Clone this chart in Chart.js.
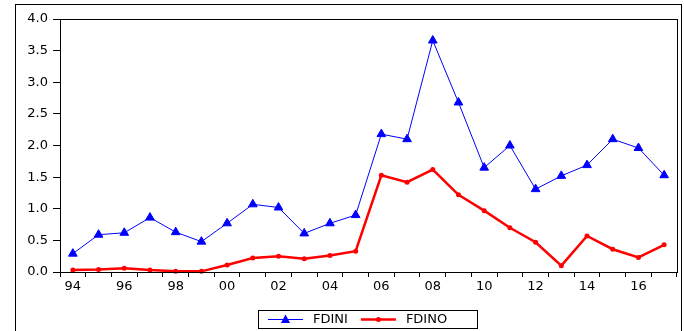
<!DOCTYPE html>
<html>
<head>
<meta charset="utf-8">
<script src="https://cdn.jsdelivr.net/npm/chart.js@4.4.1/dist/chart.umd.min.js"></script>
<style>
  html, body { margin: 0; padding: 0; background: #fff; }
  #wrap { width: 684px; height: 331px; }
</style>
</head>
<body>
<div id="wrap"><canvas id="myChart"></canvas></div>
<script>
var years = ['94','95','96','97','98','99','00','01','02','03','04','05',
             '06','07','08','09','10','11','12','13','14','15','16','17'];
var fdini = [0.29, 0.59, 0.62, 0.86, 0.63, 0.48, 0.77, 1.07, 1.02, 0.61, 0.77, 0.90,
             2.18, 2.10, 3.66, 2.68, 1.65, 2.00, 1.31, 1.52, 1.69, 2.10, 1.96, 1.53];
var fdino = [0.03, 0.04, 0.06, 0.03, 0.01, 0.01, 0.11, 0.22, 0.25, 0.21, 0.26, 0.33,
             1.53, 1.42, 1.62, 1.22, 0.97, 0.70, 0.47, 0.10, 0.57, 0.36, 0.23, 0.43];
var yTicks = [0, 0.5, 1, 1.5, 2, 2.5, 3, 3.5, 4];

var fontFamily = '"DejaVu Sans", sans-serif';

// frame round the whole picture, box round the plot, legend box at the bottom
var framePlugin = {
  id: 'frames',
  afterDraw: function(chart) {
    var ctx = chart.ctx;
    var a = chart.chartArea;
    ctx.save();
    ctx.strokeStyle = '#000';
    ctx.lineWidth = 1;
    ctx.strokeRect(15.5, 4.5, 666, 340);
    ctx.strokeRect(Math.round(a.left) + 0.5, Math.round(a.top) + 0.5,
                   Math.round(a.right - a.left), Math.round(a.bottom - a.top));

    // legend
    var bx = 258, by = 310, bw = 219, bh = 18;
    ctx.strokeRect(bx + 0.5, by + 0.5, bw, bh);
    ctx.font = '13px ' + fontFamily;
    ctx.textBaseline = 'middle';
    ctx.fillStyle = '#000';
    var x = bx + 10, cy = by + 9.5;
    chart.data.datasets.forEach(function(ds) {
      ctx.strokeStyle = ds.borderColor;
      ctx.lineWidth = ds.borderWidth;
      ctx.beginPath();
      ctx.moveTo(x, cy);
      ctx.lineTo(x + 35, cy);
      ctx.stroke();
      ctx.fillStyle = ds.pointBackgroundColor;
      if (ds.pointStyle === 'triangle') {
        ctx.beginPath();
        ctx.moveTo(x + 17.5, cy - 5);
        ctx.lineTo(x + 22, cy + 3.5);
        ctx.lineTo(x + 13, cy + 3.5);
        ctx.closePath();
        ctx.fill();
      } else {
        ctx.beginPath();
        ctx.arc(x + 17.5, cy, 2.5, 0, Math.PI * 2);
        ctx.fill();
      }
      ctx.fillStyle = '#000';
      ctx.fillText(ds.label, x + 45, cy);
      x += 45 + ctx.measureText(ds.label).width + 13;
    });
    ctx.restore();
  }
};

var myChart = new Chart(document.getElementById('myChart'), {
  type: 'line',
  data: {
    labels: years,
    datasets: [{
      label: 'FDINI',
      data: fdini,
      borderColor: '#0000ff',
      backgroundColor: '#0000ff',
      pointBackgroundColor: '#0000ff',
      pointBorderColor: '#0000ff',
      borderWidth: 1,
      pointStyle: 'triangle',
      pointRadius: 5,
      pointBorderWidth: 1,
      tension: 0,
      clip: false
    }, {
      label: 'FDINO',
      data: fdino,
      borderColor: '#ff0000',
      backgroundColor: '#ff0000',
      pointBackgroundColor: '#ff0000',
      pointBorderColor: '#ff0000',
      borderWidth: 2.5,
      pointStyle: 'circle',
      pointRadius: 2.5,
      pointBorderWidth: 0,
      tension: 0,
      clip: false
    }]
  },
  options: {
    responsive: true,
    maintainAspectRatio: false,
    animation: false,
    events: [],
    layout: {
      padding: { top: 19, right: 7, left: 0, bottom: 35 }
    },
    scales: {
      x: {
        type: 'category',
        offset: true,
        grid: {
          offset: true,
          drawOnChartArea: false,
          drawTicks: true,
          tickLength: 5,
          color: '#000'
        },
        border: { display: true, color: '#000' },
        ticks: {
          autoSkip: false,
          maxRotation: 0,
          padding: 2,
          color: '#000',
          font: { family: fontFamily, size: 13 },
          callback: function(v, i) { return i % 2 === 0 ? years[i] : ''; }
        },
        afterFit: function(scale) { scale.height = 24; }
      },
      y: {
        min: 0,
        max: 4,
        afterBuildTicks: function(scale) {
          scale.ticks = yTicks.map(function(v) { return { value: v }; });
        },
        grid: {
          drawOnChartArea: false,
          drawTicks: true,
          tickLength: 7,
          color: '#000'
        },
        border: { display: true, color: '#000' },
        ticks: {
          padding: 5,
          color: '#000',
          font: { family: fontFamily, size: 13 },
          callback: function(v) { return Number(v).toFixed(1); }
        },
        afterFit: function(scale) { scale.width = 60; }
      }
    },
    plugins: {
      legend: { display: false },
      tooltip: { enabled: false }
    }
  },
  plugins: [framePlugin]
});
</script>
</body>
</html>
